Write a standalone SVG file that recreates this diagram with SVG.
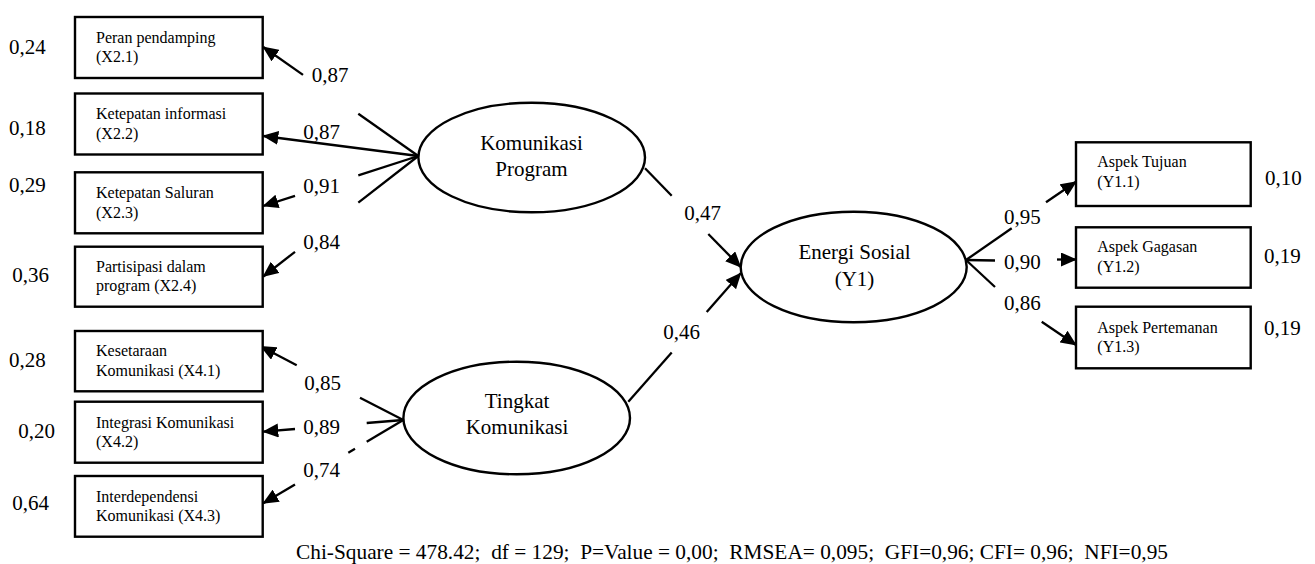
<svg xmlns="http://www.w3.org/2000/svg" width="1315" height="564" viewBox="0 0 1315 564" font-family="'Liberation Serif', Tinos, 'Times New Roman', 'DejaVu Serif', serif">
<style>
text{font-family:'Liberation Serif', Tinos, 'Times New Roman', 'DejaVu Serif', serif;fill:#000}
.v{font-size:21px}
.b{font-size:16px}
.e{font-size:21px;text-anchor:middle}
.box{fill:#fff;stroke:#000;stroke-width:2.4}
.ell{fill:#fff;stroke:#000;stroke-width:2.4}
.ln{stroke:#000;stroke-width:2.3;fill:none}
.ar{stroke:#000;stroke-width:2.3;fill:none;marker-end:url(#ah)}
</style>
<defs>
<marker id="ah" viewBox="0 0 16 14" refX="15" refY="7" markerWidth="16" markerHeight="14" markerUnits="userSpaceOnUse" orient="auto">
<path d="M0,0 L16,7 L0,14 z" fill="#000"/>
</marker>
</defs>
<rect width="1315" height="564" fill="#fff"/>

<g id="connectors">
<line class="ln" x1="418.3" y1="156" x2="358.3" y2="113.8"/>
<line class="ar" x1="303" y1="74.9" x2="263.3" y2="47"/>
<line class="ar" x1="418.3" y1="156" x2="263.3" y2="136"/>
<line class="ln" x1="418.3" y1="156" x2="358.3" y2="175.4"/>
<line class="ar" x1="295" y1="195.8" x2="263.3" y2="206"/>
<line class="ln" x1="418.3" y1="156" x2="358.3" y2="202.6"/>
<line class="ar" x1="295" y1="251.8" x2="263.3" y2="276.5"/>

<line class="ln" x1="403.3" y1="420" x2="360" y2="397.7"/>
<line class="ar" x1="296.7" y1="365.2" x2="261" y2="346.5"/>
<line class="ln" x1="403.3" y1="420" x2="366.7" y2="423"/>
<line class="ar" x1="295" y1="429" x2="263.3" y2="431.7"/>
<line class="ln" x1="403.3" y1="420" x2="366.7" y2="441.8"/>
<line class="ln" x1="355" y1="448.8" x2="348.3" y2="452.7"/>
<line class="ar" x1="295" y1="484.4" x2="263.3" y2="503.3"/>

<line class="ln" x1="645" y1="168.3" x2="671.7" y2="195.7"/>
<line class="ar" x1="708.3" y1="234" x2="740.7" y2="267"/>
<line class="ln" x1="628.3" y1="401.7" x2="671.7" y2="352.5"/>
<line class="ar" x1="706.7" y1="312" x2="740.7" y2="273.3"/>

<line class="ln" x1="966" y1="260" x2="1011.7" y2="228.3"/>
<line class="ar" x1="1046" y1="202.3" x2="1076" y2="181.7"/>
<line class="ln" x1="966" y1="260" x2="995" y2="260.5"/>
<line class="ar" x1="1057" y1="259.5" x2="1076" y2="259.5"/>
<line class="ln" x1="966" y1="260" x2="995" y2="287"/>
<line class="ar" x1="1041.7" y1="321.7" x2="1076" y2="345"/>
</g>

<g id="x21"><rect class="box" x="75" y="17" width="187.7" height="61"/><text class="b" x="96" y="42.7">Peran pendamping</text><text class="b" x="96" y="62.3">(X2.1)</text></g>
<g id="x22"><rect class="box" x="75" y="93.5" width="187.7" height="61"/><text class="b" x="96" y="119">Ketepatan informasi</text><text class="b" x="96" y="139.3">(X2.2)</text></g>
<g id="x23"><rect class="box" x="75" y="172.3" width="187.7" height="61"/><text class="b" x="96" y="198.3">Ketepatan Saluran</text><text class="b" x="96" y="218.3">(X2.3)</text></g>
<g id="x24"><rect class="box" x="75" y="246.7" width="187.7" height="60"/><text class="b" x="96" y="271.7">Partisipasi dalam</text><text class="b" x="96" y="290.7">program (X2.4)</text></g>
<g id="x41"><rect class="box" x="75" y="331" width="187.7" height="60.3"/><text class="b" x="96" y="356">Kesetaraan</text><text class="b" x="96" y="376.3">Komunikasi (X4.1)</text></g>
<g id="x42"><rect class="box" x="75" y="401.7" width="187.7" height="61"/><text class="b" x="96" y="427.7">Integrasi Komunikasi</text><text class="b" x="96" y="447.3">(X4.2)</text></g>
<g id="x43"><rect class="box" x="75" y="476" width="187.7" height="60.7"/><text class="b" x="96" y="501.7">Interdependensi</text><text class="b" x="96" y="520.7">Komunikasi (X4.3)</text></g>

<g id="y11"><rect class="box" x="1076" y="142.3" width="174.7" height="63.7"/><text class="b" x="1097.3" y="167.3">Aspek Tujuan</text><text class="b" x="1097.3" y="187.3">(Y1.1)</text></g>
<g id="y12"><rect class="box" x="1076" y="227.3" width="174.7" height="60.4"/><text class="b" x="1097.3" y="251.7">Aspek Gagasan</text><text class="b" x="1097.3" y="271.7">(Y1.2)</text></g>
<g id="y13"><rect class="box" x="1076" y="306.7" width="174.7" height="61.6"/><text class="b" x="1097.3" y="332.7">Aspek Pertemanan</text><text class="b" x="1097.3" y="351.7">(Y1.3)</text></g>

<g id="kp"><ellipse class="ell" cx="531.7" cy="157.5" rx="113.3" ry="54.8"/><text class="e" x="531.5" y="150">Komunikasi</text><text class="e" x="531.5" y="175.7">Program</text></g>
<g id="tk"><ellipse class="ell" cx="516.7" cy="418" rx="113.3" ry="56.3"/><text class="e" x="517" y="408.3">Tingkat</text><text class="e" x="517" y="434">Komunikasi</text></g>
<g id="es"><ellipse class="ell" cx="853.7" cy="267" rx="113" ry="55.3"/><text class="e" x="854.5" y="259.3">Energi Sosial</text><text class="e" x="854.5" y="286">(Y1)</text></g>

<g id="labels">
<text class="v" x="9" y="54">0,24</text>
<text class="v" x="9" y="135">0,18</text>
<text class="v" x="9" y="191.7">0,29</text>
<text class="v" x="12.3" y="281.7">0,36</text>
<text class="v" x="9" y="367.3">0,28</text>
<text class="v" x="18.3" y="438.3">0,20</text>
<text class="v" x="12.3" y="510">0,64</text>

<text class="v" x="311.7" y="81.7">0,87</text>
<text class="v" x="303.3" y="139.3">0,87</text>
<text class="v" x="303.3" y="192.7">0,91</text>
<text class="v" x="303.3" y="249.3">0,84</text>
<text class="v" x="304.3" y="390">0,85</text>
<text class="v" x="303.3" y="434">0,89</text>
<text class="v" x="303.3" y="476.7">0,74</text>

<text class="v" x="684.3" y="220">0,47</text>
<text class="v" x="663.3" y="339.3">0,46</text>

<text class="v" x="1004" y="224">0,95</text>
<text class="v" x="1004" y="269">0,90</text>
<text class="v" x="1004" y="310">0,86</text>

<text class="v" x="1265" y="185">0,10</text>
<text class="v" x="1264" y="263.3">0,19</text>
<text class="v" x="1264" y="335">0,19</text>

<text class="v" x="296" y="559" style="white-space:pre" textLength="872" lengthAdjust="spacingAndGlyphs">Chi-Square = 478.42;  df = 129;  P=Value = 0,00;  RMSEA= 0,095;  GFI=0,96; CFI= 0,96;  NFI=0,95</text>
</g>
</svg>
